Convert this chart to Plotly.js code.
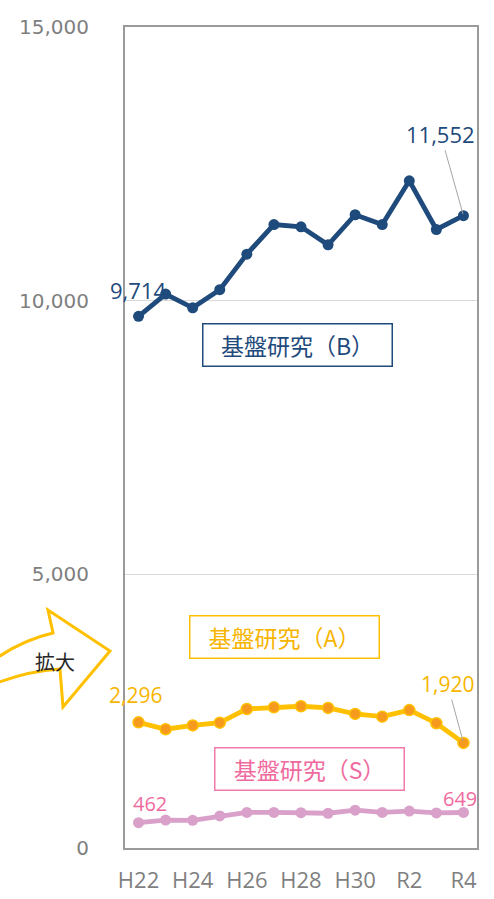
<!DOCTYPE html>
<html>
<head>
<meta charset="utf-8">
<script src="https://cdn.plot.ly/plotly-3.0.1.min.js"></script>
<style>
  body { margin: 0; background: #fff; }
</style>
</head>
<body>
<div id="chart"></div>
<script>
const years = ['H22', 'H23', 'H24', 'H25', 'H26', 'H27', 'H28', 'H29', 'H30', 'R1', 'R2', 'R3', 'R4']
const kibanB = [9714, 10120, 9870, 10200, 10850, 11390, 11350, 11020, 11570, 11390, 12190, 11300, 11552]
const kibanA = [2296, 2170, 2240, 2290, 2540, 2570, 2590, 2560, 2450, 2400, 2520, 2280, 1920]
const kibanS = [462, 510, 505, 585, 650, 650, 645, 635, 690, 650, 675, 640, 649]
const yTicks = [0, 5000, 10000, 15000]

const W = 494, H = 899
const M = { l: 125, r: 17, t: 27, b: 51 }
const PW = W - M.l - M.r, PH = H - M.t - M.b

// pixel -> paper helpers for the decorations
const px = x => (x - M.l) / PW
const py = y => (H - M.b - y) / PH
const pt = (x, y) => px(x).toFixed(4) + ',' + py(y).toFixed(4)

const blue = '#1F4A7C'
const gold = '#FFC000'
const goldText = '#F7B500'
const pink = '#D9A0C9'
const pinkText = '#EF6A9E'

const numFont = 'Open Sans, DejaVu Sans, sans-serif'
const jpFont = 'Noto Sans CJK JP, sans-serif'
const last = years.length - 1
const fmt = v => v.toLocaleString('en-US')

const traces = [
    {
        x: years, y: kibanB, type: 'scatter', mode: 'lines+markers',
        line: { color: blue, width: 4.8 },
        marker: { color: blue, size: 11 },
        hoverinfo: 'skip'
    },
    {
        x: years, y: kibanA, type: 'scatter', mode: 'lines+markers',
        line: { color: gold, width: 4.8 },
        marker: { color: '#F59A1C', size: 11, line: { color: gold, width: 1.5 } },
        hoverinfo: 'skip'
    },
    {
        x: years, y: kibanS, type: 'scatter', mode: 'lines+markers',
        line: { color: pink, width: 4.8 },
        marker: { color: pink, size: 11 },
        hoverinfo: 'skip'
    }
]

function plainLabel(x, y, text, color, size, xs, ys) {
    return { x, y, xref: 'x', yref: 'y', text, showarrow: false,
        font: { family: numFont, size, color }, xshift: xs, yshift: ys }
}
function leaderLabel(x, y, text, color, size, ax, ay) {
    return { x, y, xref: 'x', yref: 'y', text, showarrow: true,
        arrowhead: 0, arrowwidth: 1, arrowcolor: '#A6A6A6', ax, ay,
        standoff: 2, font: { family: numFont, size, color } }
}
function boxLabel(cx, cy, text, color, border) {
    return { x: px(cx), y: py(cy), xref: 'paper', yref: 'paper',
        xanchor: 'center', yanchor: 'middle', text, showarrow: false,
        font: { family: jpFont, size: 23, color },
        bordercolor: border, borderwidth: 1.5, borderpad: 0,
        width: 188, height: 41, bgcolor: 'rgba(255,255,255,0)' }
}

const annotations = [
    plainLabel(years[0], kibanB[0], fmt(kibanB[0]), blue, 22, -1, 26),
    leaderLabel(years[last], kibanB[last], fmt(kibanB[last]), blue, 22, -23, -82),
    plainLabel(years[0], kibanA[0], fmt(kibanA[0]), goldText, 21, -3, 27),
    leaderLabel(years[last], kibanA[last], fmt(kibanA[last]), goldText, 21, -16, -59),
    plainLabel(years[0], kibanS[0], fmt(kibanS[0]), pinkText, 20, 11, 19),
    plainLabel(years[last], kibanS[last], fmt(kibanS[last]), pinkText, 20, -3, 14),
    boxLabel(297.5, 345, '基盤研究（B）', blue, blue),
    boxLabel(284, 637, '基盤研究（A）', goldText, gold),
    boxLabel(309.5, 769, '基盤研究（S）', pinkText, '#F07BA8'),
    { x: px(55), y: py(661), xref: 'paper', yref: 'paper', xanchor: 'center', yanchor: 'middle',
      text: '拡大', showarrow: false,
      font: { family: jpFont, size: 20, color: '#262626' } }
]

// curved "拡大" block arrow on the left
const arrowPath = 'M ' + pt(-6, 660) +
    ' Q ' + pt(22, 640) + ' ' + pt(53, 633) +
    ' L ' + pt(48, 610) +
    ' L ' + pt(110, 651) +
    ' L ' + pt(63, 707) +
    ' L ' + pt(60, 669) +
    ' Q ' + pt(28, 671) + ' ' + pt(-6, 684) + ' Z'

const layout = {
    width: W, height: H,
    margin: M,
    paper_bgcolor: '#fff', plot_bgcolor: '#fff',
    showlegend: false,
    xaxis: {
        type: 'category', range: [-0.5, 12.5],
        tickmode: 'array', tickvals: years.filter((v, i) => i % 2 === 0),
        ticks: '', ticklabelstandoff: 12,
        tickfont: { family: numFont, size: 22, color: '#7F7F7F' },
        showline: true, linecolor: '#9A9A9A', linewidth: 2, mirror: true,
        showgrid: false, zeroline: false, fixedrange: true
    },
    yaxis: {
        range: [0, 15000], tickmode: 'array', tickvals: yTicks,
        tickformat: ',d', ticks: '', ticklabelstandoff: 30,
        tickfont: { family: 'DejaVu Sans, sans-serif', size: 20, color: '#7F7F7F' },
        showline: true, linecolor: '#9A9A9A', linewidth: 2, mirror: true,
        showgrid: true, gridcolor: '#D9D9D9', gridwidth: 1,
        zeroline: false, fixedrange: true
    },
    annotations,
    shapes: [{
        type: 'path', xref: 'paper', yref: 'paper', path: arrowPath,
        fillcolor: '#FFFFFF', line: { color: gold, width: 3 }, layer: 'below'
    }]
}

Plotly.newPlot('chart', traces, layout, { displayModeBar: false, staticPlot: true })
</script>
</body>
</html>
